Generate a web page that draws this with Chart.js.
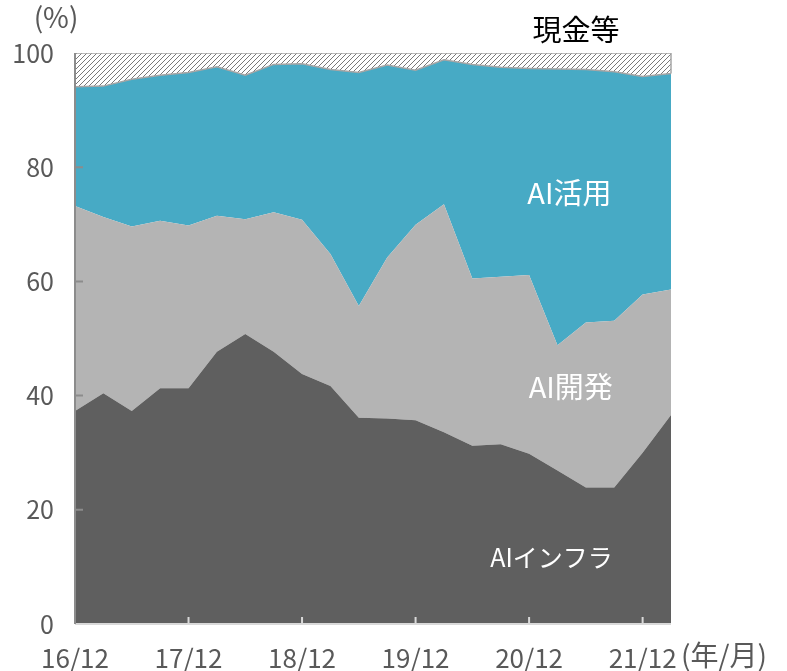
<!DOCTYPE html>
<html lang="ja">
<head>
  <meta charset="UTF-8" />
  <title>AI関連ポートフォリオ構成比</title>
  <script src="https://cdn.jsdelivr.net/npm/chart.js"></script>
  <style>
    body { margin: 0; background: #fff; }
    .wrap { width: 787px; height: 671px; position: relative; }
  </style>
</head>
<body>
  <div class="wrap"><canvas id="area"></canvas></div>

  <script>
    // 四半期ごと 16/12 〜 22/03
    const quarters = ['16/12','17/03','17/06','17/09','17/12','18/03','18/06','18/09','18/12','19/03','19/06','19/09',
                      '19/12','20/03','20/06','20/09','20/12','21/03','21/06','21/09','21/12','22/03']
    const infra   = [37.3,40.4,37.3,41.3,41.3,47.7,50.8,47.7,43.8,41.7,36.1,36.0,35.7,33.6,31.2,31.5,29.8,26.9,23.9,23.9,30.0,36.6]
    const develop = [35.9,30.9,32.3,29.3,28.5,23.8,20.1,24.4,27.0,23.1,19.6,28.2,34.2,39.9,29.3,29.3,31.3,21.9,28.9,29.2,27.7,22.0]
    const usage   = [20.9,22.9,25.8,25.5,26.8,26.1,25.2,25.9,27.3,32.3,40.9,33.7,27.1,25.3,37.5,36.7,36.2,48.4,44.3,43.6,38.2,37.8]
    const cash    = [5.9,5.8,4.6,3.9,3.4,2.4,3.9,2.0,1.9,2.9,3.4,2.1,3.0,1.2,2.0,2.5,2.7,2.8,2.9,3.3,4.1,3.6]
    const yTicks  = [0, 20, 40, 60, 80, 100]

    const FONT = '"Noto Sans CJK JP", "Noto Sans", sans-serif'
    const TXT = '#595959'

    // 現金等のハッチング
    function hatch() {
      const c = document.createElement('canvas')
      c.width = 5; c.height = 5
      const g = c.getContext('2d')
      g.fillStyle = '#fff'
      g.fillRect(0, 0, 5, 5)
      g.strokeStyle = '#555'
      g.lineWidth = 0.8
      g.beginPath()
      g.moveTo(0, 5); g.lineTo(5, 0)
      g.moveTo(-2.5, 2.5); g.lineTo(2.5, -2.5)
      g.moveTo(2.5, 7.5); g.lineTo(7.5, 2.5)
      g.stroke()
      return document.getElementById('area').getContext('2d').createPattern(c, 'repeat')
    }

    const decorations = {
      id: 'decorations',
      afterDatasetsDraw(chart) {
        const { ctx, chartArea: a, scales: { x, y } } = chart
        ctx.save()
        // x軸
        ctx.strokeStyle = '#d9d9d9'
        ctx.lineWidth = 2
        ctx.beginPath()
        ctx.moveTo(a.left, a.bottom); ctx.lineTo(a.right, a.bottom)
        quarters.forEach((q, i) => {
          if (q.endsWith('/12') && i > 0) {
            const px = x.getPixelForValue(i)
            ctx.moveTo(px, a.bottom); ctx.lineTo(px, a.bottom - 7)
          }
        })
        ctx.stroke()
        // y軸
        ctx.strokeStyle = '#8c8c8c'
        ctx.beginPath()
        ctx.moveTo(a.left, a.top); ctx.lineTo(a.left, a.bottom)
        yTicks.slice(1, -1).forEach(v => {
          const py = y.getPixelForValue(v)
          ctx.moveTo(a.left, py); ctx.lineTo(a.left + 8, py)
        })
        ctx.stroke()
        // 右端（現金等の枠）
        ctx.strokeStyle = '#a6a6a6'
        ctx.lineWidth = 1.5
        const last = quarters.length - 1
        ctx.beginPath()
        ctx.moveTo(x.getPixelForValue(last), y.getPixelForValue(100))
        ctx.lineTo(x.getPixelForValue(last), y.getPixelForValue(100 - cash[last]))
        ctx.stroke()

        // 系列ラベル
        ctx.fillStyle = '#fff'
        ctx.textAlign = 'right'
        ctx.textBaseline = 'middle'
        ctx.font = '29px ' + FONT
        ctx.fillText('AI活用', x.getPixelForValue(18.9), y.getPixelForValue(75.5))
        ctx.fillText('AI開発', x.getPixelForValue(18.95), y.getPixelForValue(41.5))
        ctx.font = '25px ' + FONT
        ctx.fillText('AIインフラ', x.getPixelForValue(18.95), y.getPixelForValue(11.7))
        // 上部・軸の注記
        ctx.font = '29px ' + FONT
        ctx.fillStyle = '#000'
        ctx.textAlign = 'center'
        ctx.fillText('現金等', 576, 30)
        ctx.font = '28px ' + FONT
        ctx.fillStyle = TXT
        ctx.fillText('(%)', 56, 17)
        ctx.textAlign = 'left'
        ctx.fillText('(年/月)', 681, 655)
        ctx.restore()
      }
    }

    const common = { pointRadius: 0, pointHoverRadius: 0, tension: 0 }

    new Chart(document.getElementById('area'), {
      type: 'line',
      data: {
        labels: quarters,
        datasets: [
          { ...common, label: 'AIインフラ', data: infra, backgroundColor: '#5f5f5f', borderWidth: 0, fill: 'origin' },
          { ...common, label: 'AI開発', data: develop, backgroundColor: '#b4b4b4', borderWidth: 0, fill: '-1' },
          { ...common, label: 'AI活用', data: usage, backgroundColor: '#47aac5', borderColor: '#a6a6a6', borderWidth: 1.5, fill: '-1' },
          { ...common, label: '現金等', data: cash, backgroundColor: hatch(), borderColor: '#a6a6a6', borderWidth: 1.5, fill: '-1' }
        ]
      },
      options: {
        responsive: true,
        maintainAspectRatio: false,
        animation: false,
        layout: { padding: { left: 0, right: 116, top: 53, bottom: 0 } },
        plugins: {
          legend: { display: false },
          tooltip: { enabled: false }
        },
        scales: {
          x: {
            offset: false,
            grid: { display: false, drawTicks: false },
            border: { display: false },
            afterFit: s => { s.height = 47 },
            ticks: {
              autoSkip: false, maxRotation: 0, padding: 19,
              color: TXT, font: { size: 26, family: FONT },
              callback: (v, i) => quarters[i].endsWith('/12') ? quarters[i] : ''
            }
          },
          y: {
            stacked: true,
            min: 0, max: 100,
            grid: { display: false, drawTicks: false },
            border: { display: false },
            afterFit: s => { s.width = 75 },
            afterBuildTicks: s => { s.ticks = yTicks.map(v => ({ value: v })) },
            ticks: { padding: 21, color: TXT, font: { size: 25, family: FONT } }
          }
        }
      },
      plugins: [decorations]
    })
  </script>
</body>
</html>
